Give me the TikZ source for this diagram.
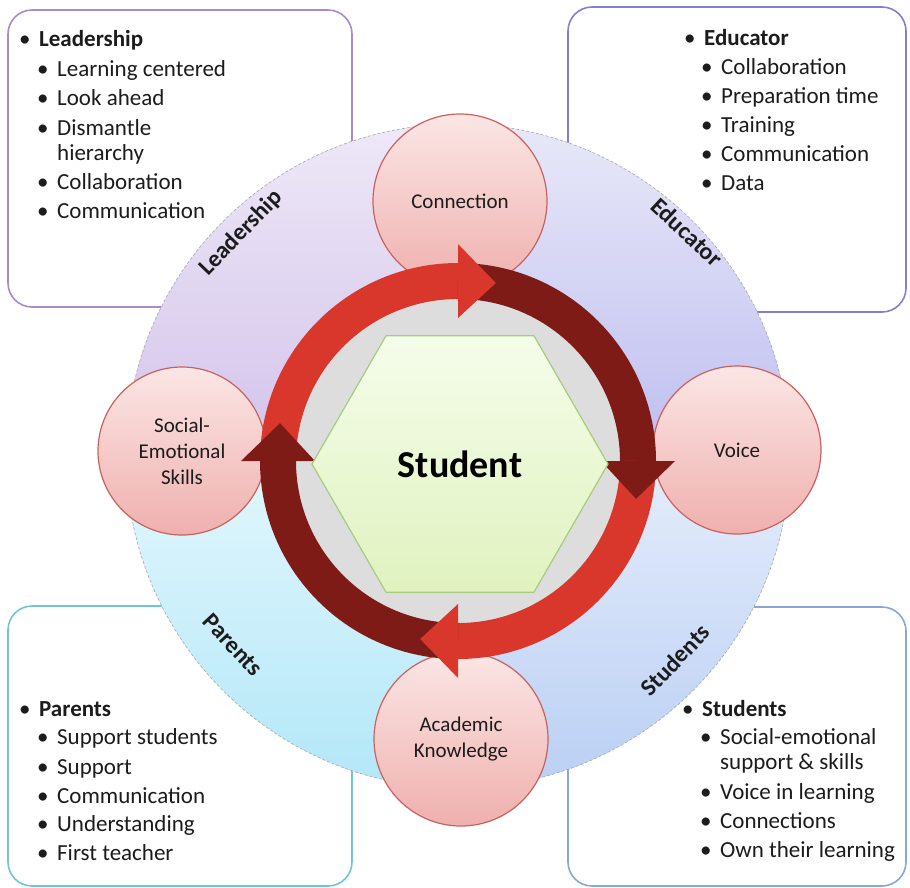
\documentclass[tikz,border=0pt]{standalone}
\usepackage{fontspec}
\setmainfont{Carlito}
\usetikzlibrary{calc}

\definecolor{ringred}{HTML}{D9372C}
\definecolor{ringdark}{HTML}{7E1B16}
\definecolor{skilltop}{HTML}{FBE6E5}
\definecolor{skillbot}{HTML}{EFB0AE}
\definecolor{skillline}{HTML}{C9625F}
\definecolor{hextop}{HTML}{F5FDEA}
\definecolor{hexbot}{HTML}{E0F2BF}
\definecolor{hexline}{HTML}{A6CB7C}
\definecolor{diskgray}{HTML}{DDDDDD}
\definecolor{inkgray}{HTML}{1C1C1C}
\definecolor{leadline}{HTML}{A58DCC}
\definecolor{leadtop}{HTML}{EEE8F7}
\definecolor{leadbot}{HTML}{D3C3EB}
\definecolor{edline}{HTML}{8080D0}
\definecolor{edtop}{HTML}{E8E8F9}
\definecolor{edbot}{HTML}{BEBEF0}
\definecolor{parline}{HTML}{70C5D9}
\definecolor{partop}{HTML}{E3F7FD}
\definecolor{parbot}{HTML}{B2E7F8}
\definecolor{stuline}{HTML}{88A7D6}
\definecolor{stutop}{HTML}{E5EDFB}
\definecolor{stubot}{HTML}{BACFF4}

\newcommand{\bul}{\makebox[20pt][l]{•}}

\begin{document}
\begin{tikzpicture}[x=1pt, y=-1pt,
    listbox/.style={rounded corners=24pt, line width=1.6pt, fill=white},
    listtext/.style={anchor=base west, inner sep=0pt, text=inkgray, font=\fontsize{23}{29}\selectfont},
    skill/.style={circle, draw=skillline, line width=1.2pt, top color=skilltop, bottom color=skillbot, inner sep=0pt, align=center, text=inkgray, font=\fontsize{21}{26}\selectfont},
    ringlabel/.style={text=inkgray, font=\fontsize{24}{28}\selectfont\bfseries}]
  \useasboundingbox (0,0) rectangle (910,887);

  % list boxes, behind the wheel
  \draw[listbox, draw=leadline] (8,10) rectangle (352,307); % leadership box
  \draw[listbox, draw=edline] (568,7) rectangle (906,312); % educator box
  \draw[listbox, draw=parline] (8,606) rectangle (352,886); % parents box
  \draw[listbox, draw=stuline] (568,607) rectangle (906,886); % students box

  \node[listtext] (leadhead) at (19,46) {\bul\textbf{Leadership}};
  \foreach \y/\t [count=\i] in {76/Learning centered, 105/Look ahead, 135/Dismantle, 189/Collaboration, 218/Communication}
    \node[listtext] (lead-\i) at (37,\y) {\bul\t};
  \node[listtext] (lead-wrap) at (57,160) {hierarchy};

  \node[listtext] (edhead) at (684,45) {\bul\textbf{Educator}};
  \foreach \y/\t [count=\i] in {74/Collaboration, 103/Preparation time, 132/Training, 161/Communication, 190/Data}
    \node[listtext] (ed-\i) at (701,\y) {\bul\t};

  \node[listtext] (parhead) at (19,716) {\bul\textbf{Parents}};
  \foreach \y/\t [count=\i] in {744/Support students, 774/Support, 803/Communication, 831/Understanding, 860/First teacher}
    \node[listtext] (par-\i) at (37,\y) {\bul\t};

  \node[listtext] (stuhead) at (682,716) {\bul\textbf{Students}};
  \foreach \y/\t [count=\i] in {744/Social-emotional, 799/Voice in learning, 828/Connections, 857/Own their learning}
    \node[listtext] (stu-\i) at (700,\y) {\bul\t};
  \node[listtext] (stu-wrap) at (720,769) {support \& skills};

  % wheel quarters
  \coordinate (wc) at (458,456);
  \shade[top color=leadtop, bottom color=leadbot] (wc) -- ++(90:332pt) arc[start angle=90, end angle=180, radius=332pt] -- cycle;
  \shade[top color=edtop, bottom color=edbot] (wc) -- ++(0:332pt) arc[start angle=0, end angle=90, radius=332pt] -- cycle;
  \shade[top color=partop, bottom color=parbot] (wc) -- ++(180:332pt) arc[start angle=180, end angle=270, radius=332pt] -- cycle;
  \shade[top color=stutop, bottom color=stubot] (wc) -- ++(270:332pt) arc[start angle=270, end angle=360, radius=332pt] -- cycle;
  \draw[gray!70, densely dashed, line width=0.6pt] (wc) circle (332pt); % rim

  \node[ringlabel, rotate=46] (leadlabel) at (241,233) {Leadership};
  \node[ringlabel, rotate=-43] (edlabel) at (687,232) {Educator};
  \node[ringlabel, rotate=-47] (parlabel) at (233,645) {Parents};
  \node[ringlabel, rotate=46] (stulabel) at (675,660) {Students};

  % the four stages
  \node[skill, minimum size=174pt] (connection) at (460,201) {Connection};
  \node[skill, minimum size=168pt] (voice) at (737,450) {Voice};
  \node[skill, minimum size=168pt] (social) at (182,451) {Social-\\Emotional\\Skills};
  \node[skill, minimum size=174pt] (academic) at (461,739) {Academic\\Knowledge};

  % cycle of arrows
  \coordinate (o) at (458,461);
  \fill[diskgray] (o) circle (164pt);
  \foreach \a/\c in {180/ringred, 90/ringdark, 0/ringred, -90/ringdark}
    \draw[line width=36pt, \c] (o) ++(\a:180pt) arc[start angle=\a, end angle=\a-90, radius=180pt];
  \foreach \a/\c in {90/ringred, 0/ringdark, -90/ringred, -180/ringdark}
    \fill[\c] ($(o)+(\a:143pt)$) -- ($(o)+(\a:217pt)$) -- ($(o)+({\a-12}:182pt)$) -- cycle; % head

  % centre
  \coordinate (h) at (460,464);
  \draw[hexline, line width=1.2pt, top color=hextop, bottom color=hexbot]
    ($(h)+(0:148pt)$) -- ($(h)+(60:148pt)$) -- ($(h)+(120:148pt)$) -- ($(h)+(180:148pt)$) -- ($(h)+(240:148pt)$) -- ($(h)+(300:148pt)$) -- cycle;
  \node[text=black, font=\fontsize{38}{44}\selectfont\bfseries] (student) at (h) {Student};
\end{tikzpicture}
\end{document}
